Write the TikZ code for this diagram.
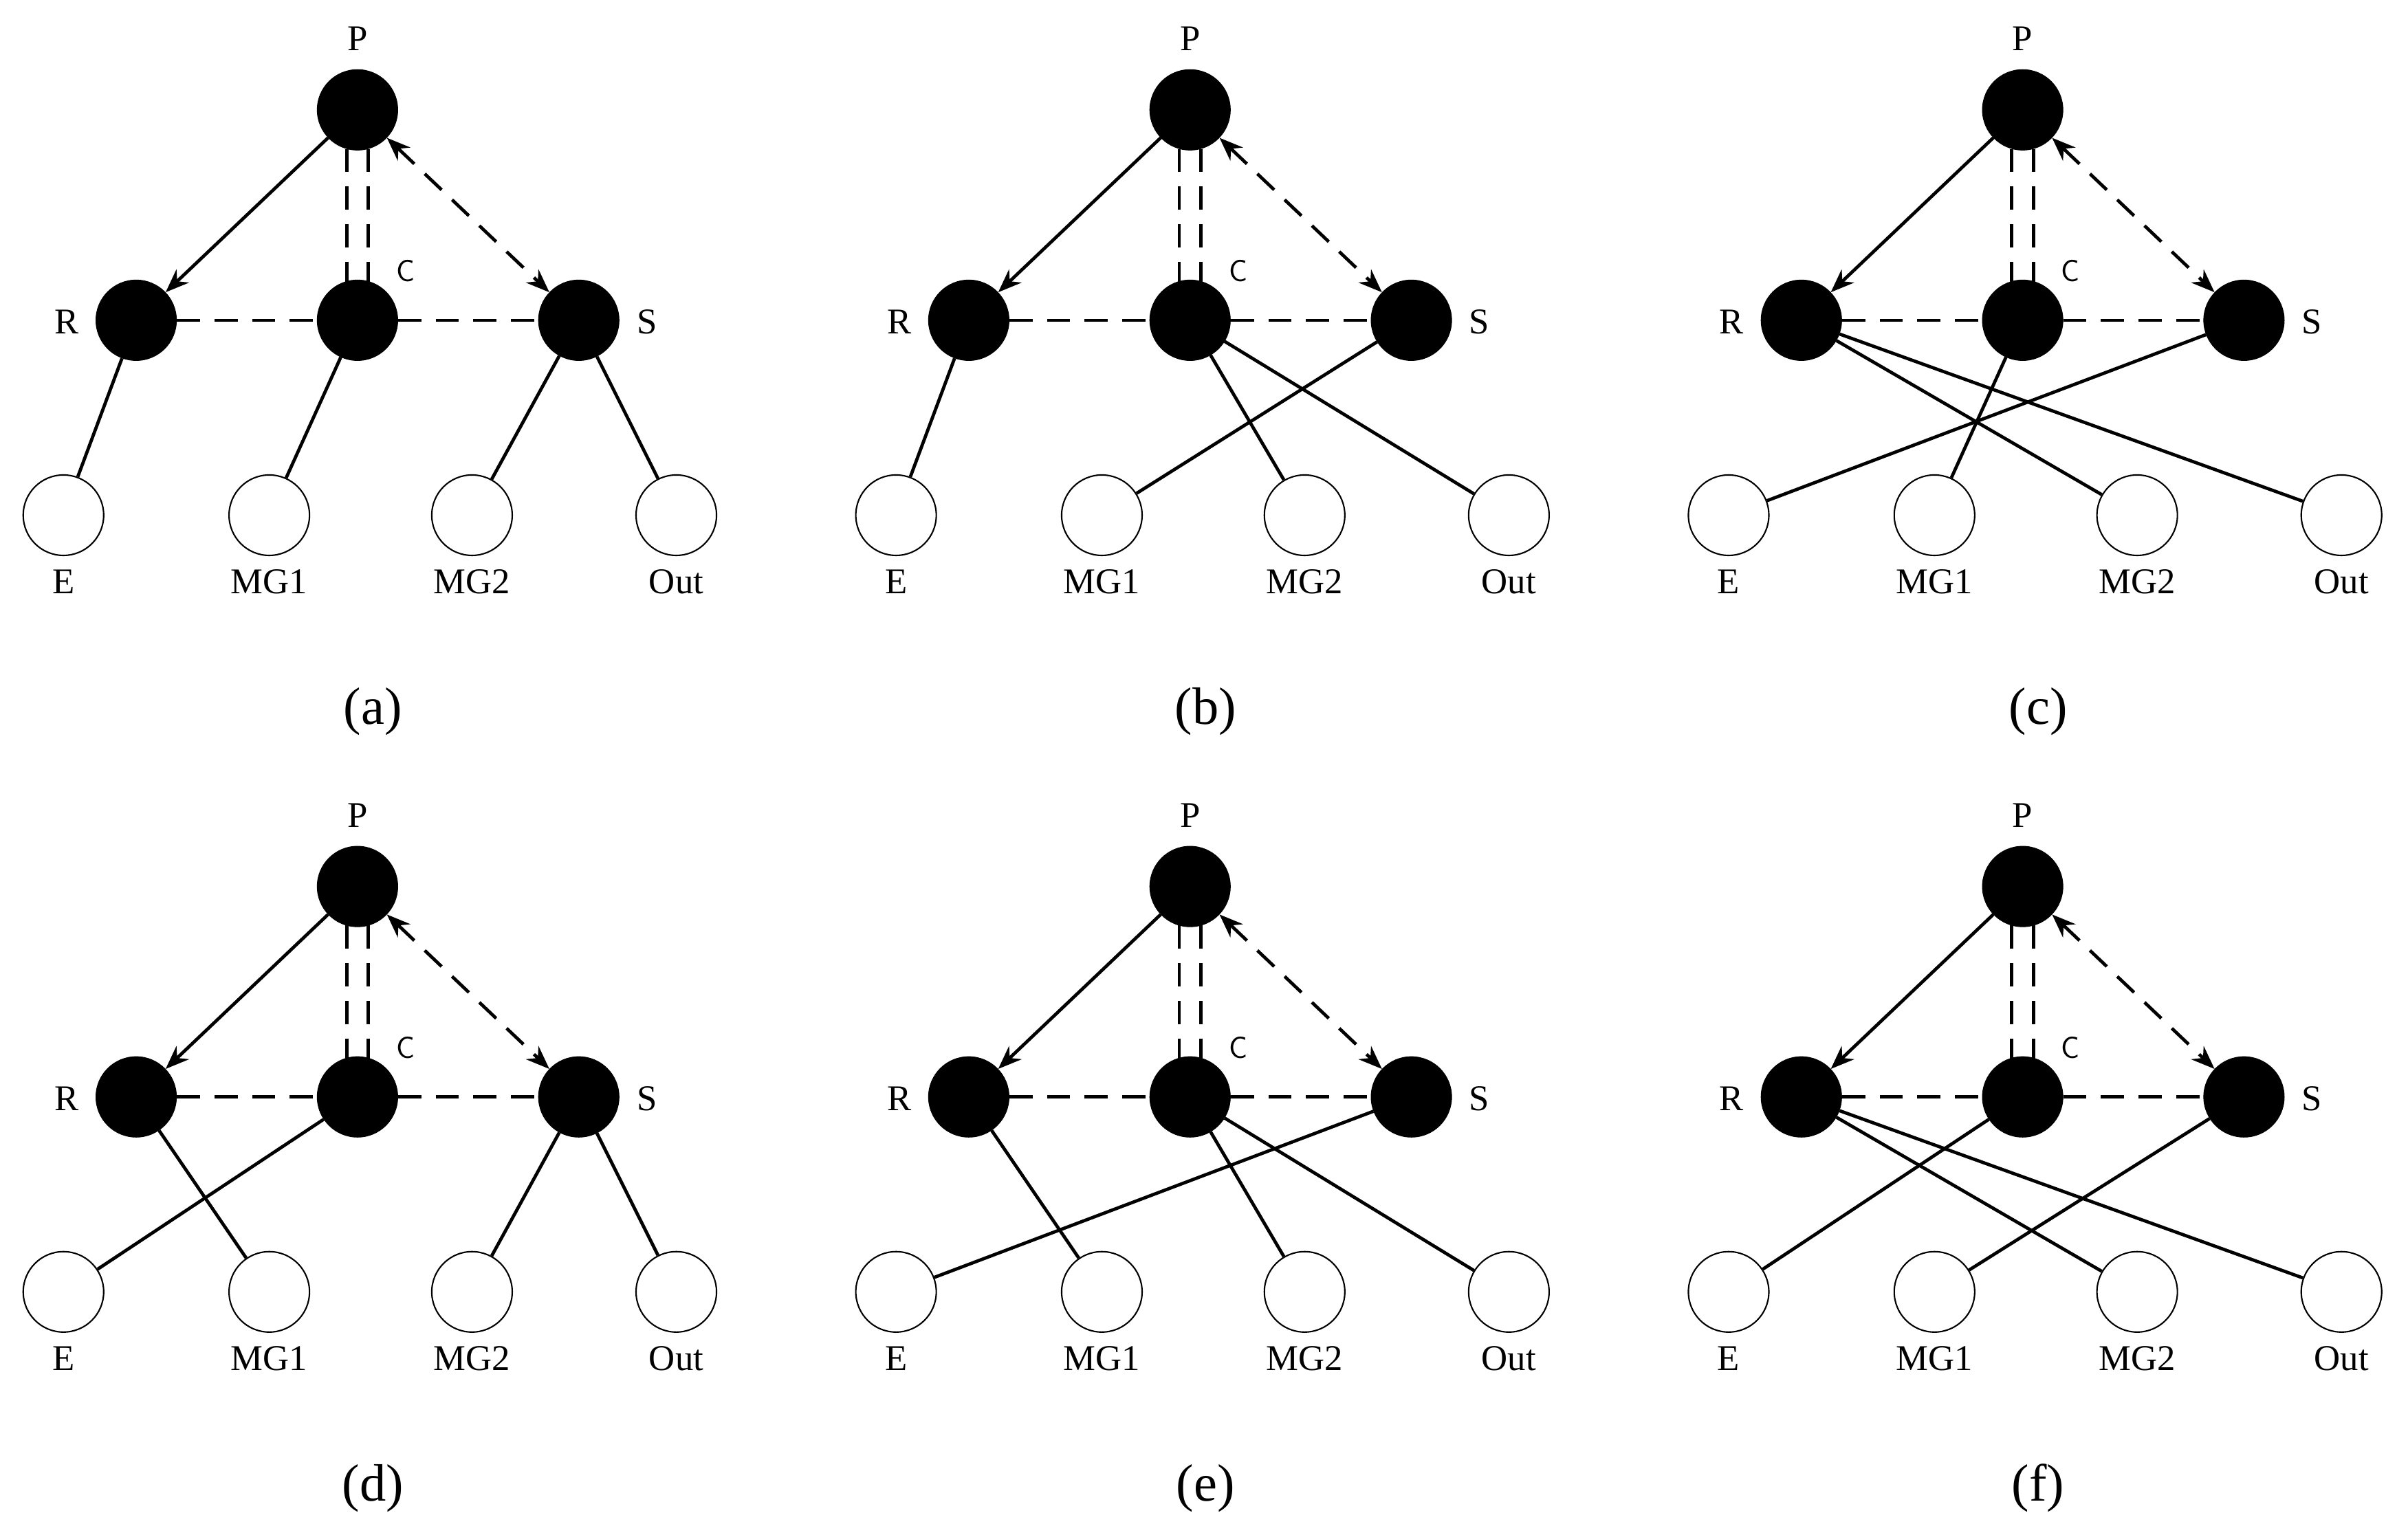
\documentclass[tikz,border=0pt]{standalone}
\usepackage{fontspec}
\setmainfont{Liberation Serif}
\usetikzlibrary{arrows.meta,calc}
\begin{document}
\begin{tikzpicture}[x=0.03cm,y=-0.03cm,
  blk/.style={circle,fill=black,draw=black,minimum size=1.56cm,inner sep=0pt},
  wht/.style={circle,draw=black,line width=0.8pt,minimum size=1.56cm,inner sep=0pt},
  lab/.style={font=\fontsize{20}{22}\selectfont},
  captxt/.style={font=\fontsize{29}{32}\selectfont},
  ln/.style={line width=1.8pt},
  dsh/.style={line width=1.8pt,dash pattern=on 0.45cm off 0.28cm},
  arr/.style={-{Stealth[length=13pt,width=10pt]}}]
\useasboundingbox (0,0) rectangle (1556,985);
\newcommand{\mypanel}[5]{%
 \begin{scope}[shift={(#2,#3)}]
  \node[blk] (#1P) at (231,71) {};
  \node[blk] (#1R) at (88,207) {};
  \node[blk] (#1C) at (231,207) {};
  \node[blk] (#1S) at (374,207) {};
  \node[wht] (#1E) at (41,333) {};
  \node[wht] (#1M) at (174,333) {};
  \node[wht] (#1N) at (305,333) {};
  \node[wht] (#1O) at (437,333) {};
  \node[lab] (#1lP) at (231,25) {P};
  \node[lab] (#1lR) at (43,208) {R};
  \node[lab] (#1lS) at (418,208) {S};
  \node[lab,font=\fontsize{17}{19}\selectfont\sffamily] (#1lC) at (262,175) {C};
  \node[lab] (#1lE) at (41,376) {E};
  \node[lab] (#1lM) at (174,376) {MG1};
  \node[lab] (#1lN) at (305,376) {MG2};
  \node[lab] (#1lO) at (437,376) {Out};
  \node[captxt] (#1cap) at (241,460) {#4};
  \draw[ln,arr] (#1P) -- (#1R);
  \draw[dsh,{Stealth[length=13pt,width=10pt]}-{Stealth[length=13pt,width=10pt]}] (#1P) -- (#1S);
  \draw[dsh] ($(#1P.south)+(-7,-1)$) -- ($(#1C.north)+(-7,2)$);
  \draw[dsh] ($(#1P.south)+(7,-1)$) -- ($(#1C.north)+(7,2)$);
  \draw[dsh] (#1R) -- (#1C);
  \draw[dsh] (#1C) -- (#1S);
  \foreach \a/\b in {#5} {\draw[ln] (#1\a) -- (#1\b);}
 \end{scope}}
\mypanel{a}{0}{0}{(a)}{R/E,C/M,S/N,S/O}
\mypanel{b}{538}{0}{(b)}{R/E,S/M,C/N,C/O}
\mypanel{c}{1076}{0}{(c)}{S/E,C/M,R/N,R/O}
\mypanel{d}{0}{502}{(d)}{C/E,R/M,S/N,S/O}
\mypanel{e}{538}{502}{(e)}{S/E,R/M,C/N,C/O}
\mypanel{f}{1076}{502}{(f)}{C/E,S/M,R/N,R/O}
\end{tikzpicture}
\end{document}
